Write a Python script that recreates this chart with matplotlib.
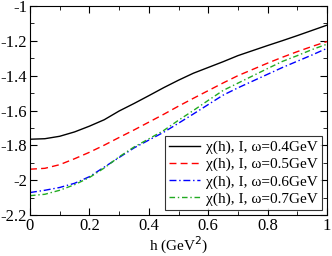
import numpy as np
import matplotlib
matplotlib.use('Agg')
import matplotlib.pyplot as plt
from matplotlib.ticker import MultipleLocator

plt.rcParams['font.family'] = ['Liberation Serif', 'DejaVu Serif']
plt.rcParams['axes.unicode_minus'] = False

# valores
h = [0.0, 0.05, 0.1, 0.15, 0.2, 0.25, 0.3, 0.35, 0.4, 0.45, 0.5,
     0.55, 0.6, 0.65, 0.7, 0.75, 0.8, 0.85, 0.9, 0.95, 1.0]
chi_04 = [-1.765, -1.762, -1.748, -1.723, -1.690, -1.653, -1.603, -1.560, -1.515, -1.469, -1.426,
          -1.386, -1.353, -1.320, -1.285, -1.256, -1.227, -1.199, -1.170, -1.140, -1.110]
chi_05 = [-1.937, -1.932, -1.911, -1.877, -1.840, -1.799, -1.755, -1.712, -1.667, -1.622, -1.575,
          -1.530, -1.486, -1.442, -1.400, -1.364, -1.328, -1.294, -1.262, -1.232, -1.204]
chi_06 = [-2.071, -2.058, -2.042, -2.018, -1.980, -1.925, -1.870, -1.815, -1.770, -1.725, -1.673,
          -1.620, -1.566, -1.512, -1.470, -1.431, -1.392, -1.353, -1.317, -1.281, -1.243]
chi_07 = [-2.089, -2.081, -2.058, -2.026, -1.985, -1.930, -1.866, -1.810, -1.763, -1.715, -1.656,
          -1.600, -1.542, -1.485, -1.443, -1.401, -1.359, -1.318, -1.285, -1.250, -1.219]
labels = ['χ(h), I, ω=0.4GeV', 'χ(h), I, ω=0.5GeV', 'χ(h), I, ω=0.6GeV', 'χ(h), I, ω=0.7GeV']
xticks = [0, 0.2, 0.4, 0.6, 0.8, 1]
xticklabels = ['0', '0.2', '0.4', '0.6', '0.8', '1']
yticks = [-2.2, -2, -1.8, -1.6, -1.4, -1.2, -1]
yticklabels = ['-2.2', '-2', '-1.8', '-1.6', '-1.4', '-1.2', '-1']

fig = plt.figure(figsize=(3.32, 2.56), dpi=100)
ax = fig.add_axes([30/332, 41/256, 297/332, 209/256])

ax.plot(h, chi_04, color='black', lw=1.0, ls='-', label=labels[0])
ax.plot(h, chi_05, color='red', lw=1.0, ls=(0, (5, 3)), label=labels[1])
ax.plot(h, chi_06, color='blue', lw=1.0, ls=(0, (5, 2, 1, 2)), label=labels[2])
ax.plot(h, chi_07, color='#22aa22', lw=1.0, ls=(0, (4, 2, 1, 2)), label=labels[3])

ax.set_xlim(0, 1)
ax.set_ylim(-2.2, -1)
ax.set_xticks(xticks)
ax.set_xticklabels(xticklabels)
ax.set_yticks(yticks)
ax.set_yticklabels(yticklabels)
ax.xaxis.set_minor_locator(MultipleLocator(0.1))
ax.yaxis.set_minor_locator(MultipleLocator(0.1))
ax.tick_params(which='both', direction='in', top=True, right=True, labelsize=12, pad=2)
ax.tick_params(which='major', length=5)
ax.tick_params(which='minor', length=3)
ax.set_xlabel('h (GeV$^2$)', fontsize=11, labelpad=1)

leg = ax.legend(loc='lower right', fontsize=11, frameon=True, fancybox=False,
                edgecolor='black', handlelength=2.0, handletextpad=0.4,
                borderaxespad=0.3, labelspacing=0.22, borderpad=0.3)
leg.get_frame().set_linewidth(0.8)

plt.savefig('out.png', dpi=100)
